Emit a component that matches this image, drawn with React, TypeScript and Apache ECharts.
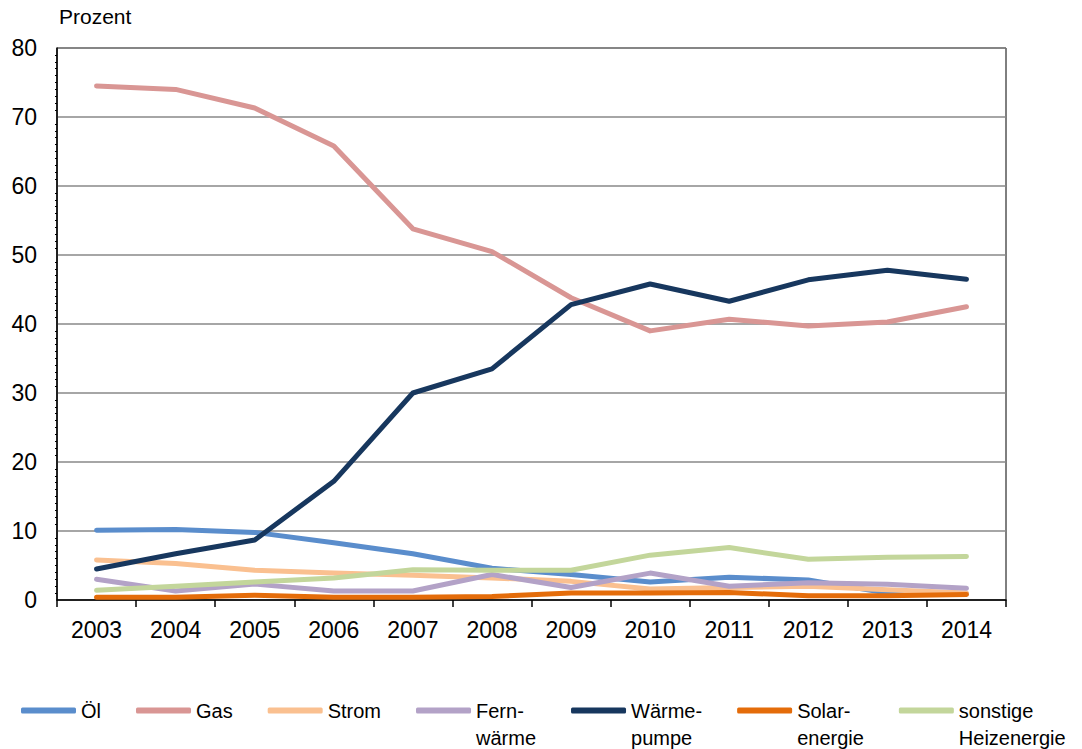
import React, { useEffect, useRef } from "react";
import * as echarts from "echarts";

const years = ["2003", "2004", "2005", "2006", "2007", "2008", "2009", "2010", "2011", "2012", "2013", "2014"];
const oel = [10.1, 10.2, 9.8, 8.3, 6.7, 4.6, 3.7, 2.6, 3.3, 2.9, 1.0, 0.9];
const gas = [74.5, 74.0, 71.3, 65.8, 53.8, 50.5, 43.8, 39.0, 40.7, 39.7, 40.3, 42.5];
const strom = [5.8, 5.3, 4.3, 3.9, 3.6, 3.2, 2.7, 1.6, 1.8, 2.0, 1.5, 1.0];
const fernwaerme = [3.0, 1.3, 2.3, 1.3, 1.3, 3.7, 1.8, 3.9, 2.0, 2.5, 2.3, 1.7];
const waermepumpe = [4.5, 6.7, 8.7, 17.2, 30.0, 33.5, 42.8, 45.8, 43.3, 46.4, 47.8, 46.5];
const solar = [0.4, 0.4, 0.7, 0.4, 0.4, 0.5, 1.0, 1.0, 1.1, 0.6, 0.6, 0.8];
const sonstige = [1.4, 2.0, 2.6, 3.2, 4.4, 4.3, 4.3, 6.5, 7.6, 5.9, 6.2, 6.3];

const seriesDefs = [
  { name: "Öl", data: oel, color: "#5a8dcc" },
  { name: "Gas", data: gas, color: "#d99694" },
  { name: "Strom", data: strom, color: "#fac090" },
  { name: "Fern-\nwärme", data: fernwaerme, color: "#b3a2c7" },
  { name: "Wärme-\npumpe", data: waermepumpe, color: "#17375e" },
  { name: "Solar-\nenergie", data: solar, color: "#e46c0a" },
  { name: "sonstige\nHeizenergie", data: sonstige, color: "#c3d69b" },
];

const FONT = "'Liberation Sans', Arial, sans-serif";

export default function App() {
  const ref = useRef<HTMLDivElement>(null);
  useEffect(() => {
    if (!ref.current) return;
    const chart = echarts.init(ref.current, null, { renderer: "svg" });
    chart.setOption({
      animation: false,
      backgroundColor: "#fff",
      textStyle: { fontFamily: FONT },
      grid: {
        left: 57,
        right: 76,
        top: 48,
        bottom: 149,
        show: true,
        borderColor: "#000",
        borderWidth: 1,
      },
      graphic: [
        {
          type: "text",
          left: 59,
          top: 6,
          style: { text: "Prozent", fontSize: 21, fontFamily: FONT, fill: "#000" },
        },
      ],
      legend: {
        left: 16,
        top: 665,
        itemWidth: 55,
        itemHeight: 6,
        itemGap: 35,
        icon: "roundRect",
        align: "left",
        formatter: (name: string) => (name.indexOf("\n") >= 0 ? " \n" + name : name),
        textStyle: { fontSize: 20, lineHeight: 27, color: "#000", fontFamily: FONT },
      },
      xAxis: {
        type: "category",
        data: years,
        boundaryGap: true,
        axisLine: { lineStyle: { color: "#000", width: 1.5 } },
        axisTick: { show: true, length: 7, lineStyle: { color: "#000", width: 1.5 } },
        axisLabel: { fontSize: 23, color: "#000", margin: 18, fontFamily: FONT },
      },
      yAxis: {
        type: "value",
        min: 0,
        max: 80,
        interval: 10,
        axisLine: { show: true, lineStyle: { color: "#000", width: 1.5 } },
        axisTick: { show: false },
        minorTick: { show: true, splitNumber: 10, length: 2, lineStyle: { color: "#000" } },
        splitLine: { lineStyle: { color: "#888", width: 1.5 } },
        axisLabel: { fontSize: 23, color: "#000", margin: 20, fontFamily: FONT },
      },
      series: seriesDefs.map((s) => ({
        name: s.name,
        type: "line",
        data: s.data,
        showSymbol: false,
        symbol: "none",
        color: s.color,
        lineStyle: { width: 5, color: s.color, cap: "round", join: "round" },
      })),
    });
    return () => chart.dispose();
  }, []);
  return (
    <div
      ref={ref}
      style={{ position: "fixed", left: 0, top: 0, width: 1082, height: 749 }}
    />
  );
}
